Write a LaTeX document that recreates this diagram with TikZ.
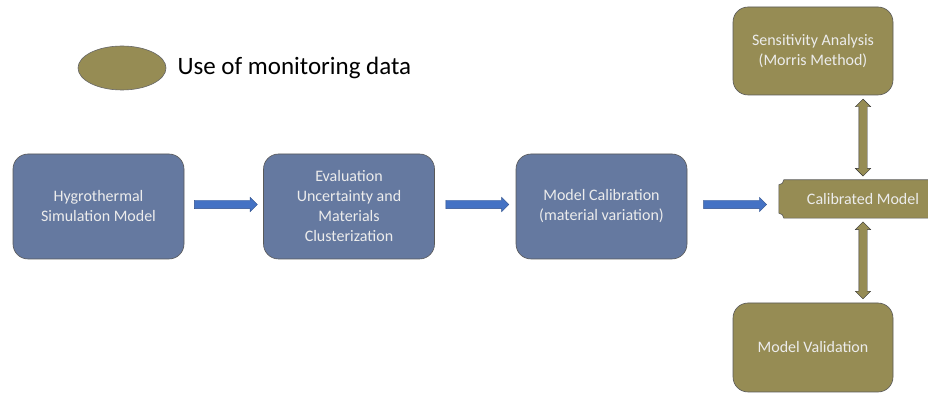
\documentclass[tikz,border=0pt]{standalone}
\usepackage{fontspec}
\setmainfont{Carlito}
\usetikzlibrary{positioning,backgrounds,shapes.geometric,shapes.arrows}

\definecolor{boxblue}{RGB}{101,121,160}
\definecolor{boxolive}{RGB}{150,140,84}
\definecolor{arrowblue}{RGB}{68,114,196}
\definecolor{boxtext}{RGB}{236,236,236}

\begin{document}
\begin{tikzpicture}
[x=1pt, y=1pt,
 stage/.style={draw=black!65, line width=0.6pt, fill=boxblue, rounded corners=15pt, minimum width=171pt, minimum height=105pt, align=center, text=boxtext, font=\fontsize{16}{20}\selectfont},
 monitored/.style={stage, fill=boxolive, minimum width=160pt, minimum height=88pt},
 flow/.style={single arrow, draw=arrowblue!70!black, fill=arrowblue, minimum height=63pt, inner xsep=0pt, inner ysep=4pt, single arrow head extend=3pt, yshift=2pt},
 both/.style={double arrow, draw=black!80, fill=boxolive, minimum height=77pt, inner xsep=0pt, inner ysep=4pt, double arrow head extend=3.5pt, rotate=90}]

\useasboundingbox (0,0) rectangle (928,393);

% legend
\node[ellipse, draw=black!60, line width=0.6pt, fill=boxolive, minimum width=88pt, minimum height=44pt, inner sep=0pt] (legend) at (122,325) {};
\node[right=9pt of legend, inner sep=2pt, font=\fontsize{25}{30}\selectfont] (legendtext) {Use of monitoring data};

% main chain
\node[stage] (hyg) at (98.5,186.5) {Hygrothermal\\Simulation Model};
\node[stage] (eval) at (349,186.5) {Evaluation\\Uncertainty and\\Materials\\Clusterization};
\node[stage] (calibration) at (601.5,186.5) {Model Calibration\\(material variation)};
\node[minimum width=168pt, minimum height=38pt, inner sep=0pt, text=boxtext, font=\fontsize{16}{20}\selectfont] (calib) at (863,194) {Calibrated Model};

\node[monitored] (sens) at (813,342) {Sensitivity Analysis\\(Morris Method)};
\node[monitored, minimum height=89pt] (valid) at (813,45.5) {Model Validation};

\begin{scope}[on background layer]
\draw[draw=black!65, line width=0.6pt, fill=boxolive]
  ([yshift=-5pt]calib.north west) arc[start angle=-90, end angle=0, radius=5pt]
  -- (calib.north east) -- (calib.south east)
  -- ([xshift=5pt]calib.south west) arc[start angle=0, end angle=90, radius=5pt] -- cycle;
\end{scope}

% arrows
\path (hyg) -- (eval) node[flow, midway] (f1) {};
\path (eval) -- (calibration) node[flow, midway] (f2) {};
\path (calibration.east) -- (calibration.east -| calib.west) node[flow, midway] (f3) {};
\path (calib.north) -- (calib.north |- sens.south) node[both, midway] (b1) {};
\path (calib.south) -- (calib.south |- valid.north) node[both, midway] (b2) {};
\end{tikzpicture}
\end{document}
